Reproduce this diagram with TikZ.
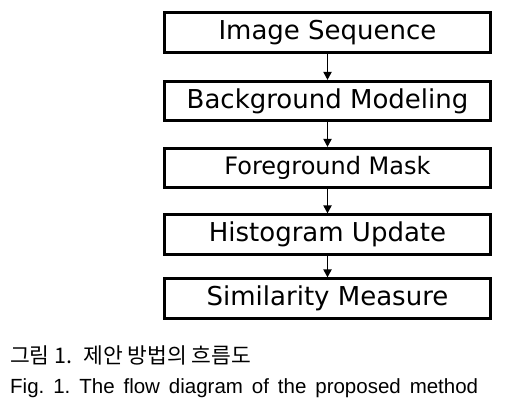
\documentclass[tikz,border=0pt]{standalone}
\usepackage{fontspec}
\setmainfont{DejaVu Sans}
\newfontfamily\capfont{Liberation Sans}
\newfontfamily\korfont{Noto Sans CJK KR}
\usetikzlibrary{arrows.meta}
\frenchspacing

\begin{document}
\begin{tikzpicture}[x=1pt,y=-1pt]
        \useasboundingbox (0,0) rectangle (513,404);

        \tikzset{
            stagebox/.style={draw, line width=2.6pt, minimum width=326pt, minimum height=39.5pt,
                inner sep=0pt, font=\fontsize{26}{30}\selectfont},
            flowarrow/.style={line width=1.8pt, -{Triangle[width=8pt,length=8pt]}}
        }

        % Блоки
        \node[stagebox] (seq)  at (327.5,32.5) {Image Sequence};
        \node[stagebox] (bg)   at (327.5,101)  {Background Modeling};
        \node[stagebox, font=\fontsize{24}{28}\selectfont] (fg) at (327.5,168) {Foreground Mask};
        \node[stagebox] (hist) at (327.5,234.5) {Histogram Update};
        \node[stagebox] (sim)  at (327.5,298.5) {Similarity Measure};

        % Стрелки
        \draw[flowarrow] (seq)  -- (bg);
        \draw[flowarrow] (bg)   -- (fg);
        \draw[flowarrow] (fg)   -- (hist);
        \draw[flowarrow] (hist) -- (sim);

        % Подписи
        \node[anchor=base west, inner sep=0pt, font=\korfont\fontsize{21.5}{24}\selectfont] (capkr) at (10,363)
            {그림 1.\enspace 제안 방법의 흐름도};
        \node[anchor=base west, inner sep=0pt, font=\capfont\fontsize{20.5}{24}\selectfont] (capen) at (10,393)
            {\makebox[468pt][s]{Fig. 1. The flow diagram of the proposed method}};
    \end{tikzpicture}
\end{document}
